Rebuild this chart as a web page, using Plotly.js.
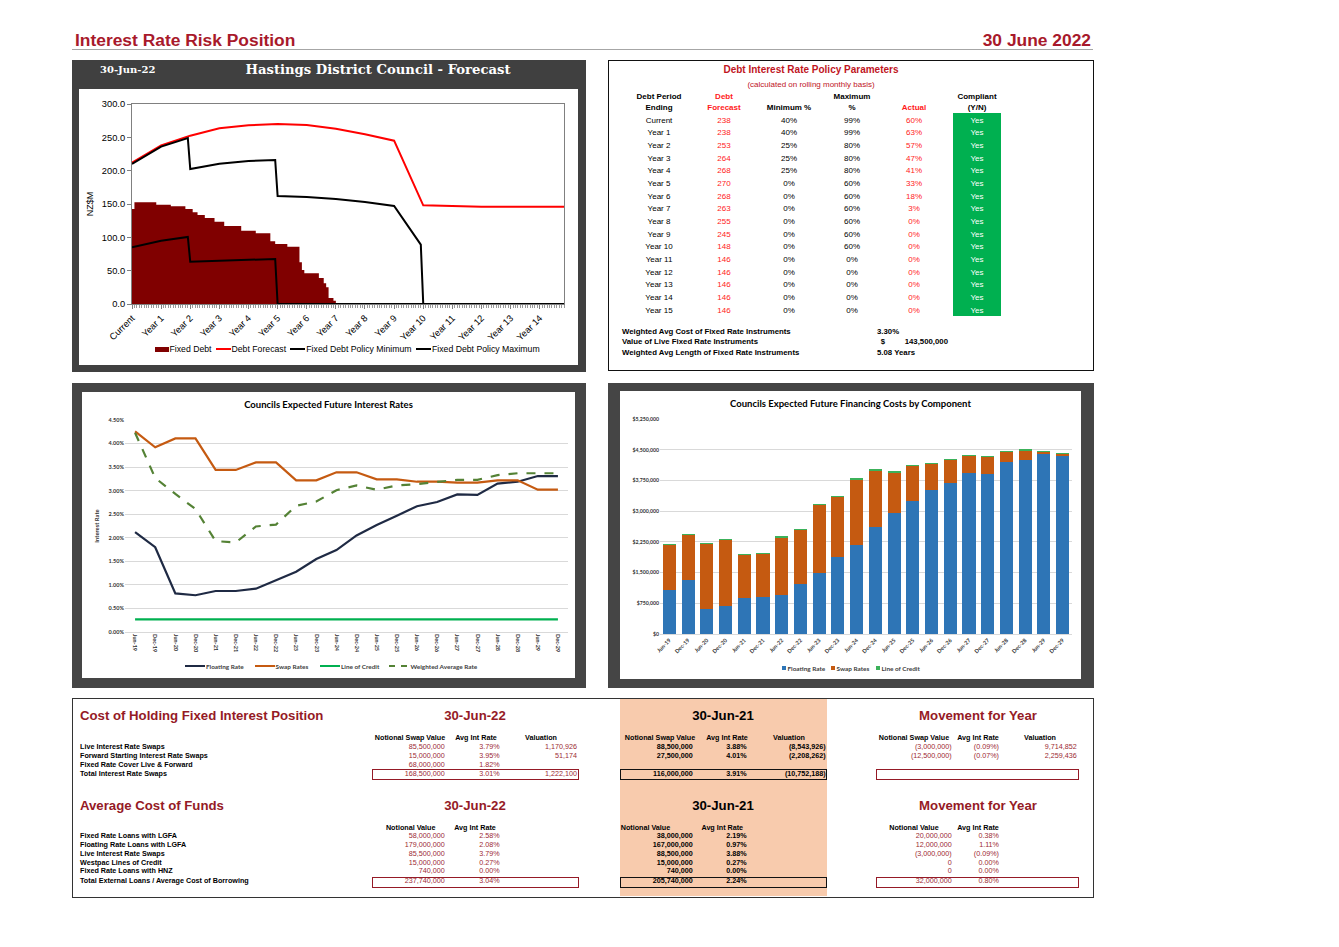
<!DOCTYPE html>
<html>
<head>
<meta charset="utf-8">
<script src="https://cdn.plot.ly/plotly-3.0.1.min.js"></script>
<style>
html,body{margin:0;padding:0;background:#fff;}
body{width:1339px;height:947px;position:relative;overflow:hidden;font-family:"Liberation Sans",Arial,sans-serif;}
.box{position:absolute;box-sizing:border-box;}
.t{position:absolute;white-space:nowrap;}
.plot{position:absolute;}
</style>
</head>
<body>
<script>
// ================= DATA =================
// Top-left: Hastings District Council - Forecast (months from "Current")
const yearTickMonths = [0,12,24,36,48,60,72,84,96,108,120,132,144,156,168];
const yearTickLabels = ['Current','Year 1','Year 2','Year 3','Year 4','Year 5','Year 6','Year 7','Year 8','Year 9','Year 10','Year 11','Year 12','Year 13','Year 14'];
const fixedDebtMonth = [0,1,10,16,22,25,27,30,34,38,45,51,57,59,64,69,70,71,77,79,80,81,83,84,178];
const fixedDebtValue = [142.5,152.5,149,146.5,142.5,137.5,133.5,129,123.5,117,110,106,94,90,86,62.5,51,46,39,31,25,9,5,0,0];
const debtForecastMonth = [0,12,24,36,48,60,72,84,96,108,120,132,144,156,168,178];
const debtForecastValue = [212,238,252.5,263.5,268,270,268.5,263,254.5,245,148,146.5,146,146,146,146];
const policyMinMonth = [0,12,23,24,36,48,59,60,178];
const policyMinValue = [85,95,100.5,63.5,65,66.5,67.5,0,0];
const policyMaxMonth = [0,12,23,24,36,48,59,60,72,84,96,108,119,120,178];
const policyMaxValue = [210,236,249,202.5,210.5,214.5,216,162,160.5,157.5,153,147,89,0,0];
const tlSeriesNames = ['Fixed Debt','Debt Forecast','Fixed Debt Policy Minimum','Fixed Debt Policy Maximum'];

// Top-right: Debt Interest Rate Policy Parameters
const policyPeriods = ['Current','Year 1','Year 2','Year 3','Year 4','Year 5','Year 6','Year 7','Year 8','Year 9','Year 10','Year 11','Year 12','Year 13','Year 14','Year 15'];
const policyDebtForecast = [238,238,253,264,268,270,268,263,255,245,148,146,146,146,146,146];
const policyMinPct = [40,40,25,25,25,0,0,0,0,0,0,0,0,0,0,0];
const policyMaxPct = [99,99,80,80,80,60,60,60,60,60,60,0,0,0,0,0];
const policyActualPct = [60,63,57,47,41,33,18,3,0,0,0,0,0,0,0,0];
const policyCompliant = ['Yes','Yes','Yes','Yes','Yes','Yes','Yes','Yes','Yes','Yes','Yes','Yes','Yes','Yes','Yes','Yes'];
const summaryLabels = ['Weighted Avg Cost of Fixed Rate Instruments','Value of Live Fixed Rate Instruments','Weighted Avg Length of Fixed Rate Instruments'];
const summaryValues = ['3.30%','143,500,000','5.08 Years'];

// Bottom-left / bottom-right: half-year periods
const periodLabels = ['Jun-19','Dec-19','Jun-20','Dec-20','Jun-21','Dec-21','Jun-22','Dec-22','Jun-23','Dec-23','Jun-24','Dec-24','Jun-25','Dec-25','Jun-26','Dec-26','Jun-27','Dec-27','Jun-28','Dec-28','Jun-29','Dec-29'];
const floatingRate = [2.12,1.80,0.82,0.78,0.87,0.87,0.92,1.10,1.28,1.55,1.74,2.05,2.27,2.47,2.67,2.76,2.92,2.91,3.15,3.19,3.31,3.31];
const swapRate = [4.26,3.92,4.11,4.11,3.44,3.44,3.60,3.60,3.22,3.22,3.39,3.39,3.24,3.24,3.19,3.19,3.17,3.17,3.22,3.22,3.02,3.02];
const lineOfCreditRate = [0.27,0.27,0.27,0.27,0.27,0.27,0.27,0.27,0.27,0.27,0.27,0.27,0.27,0.27,0.27,0.27,0.27,0.27,0.27,0.27,0.27,0.27];
const weightedAvgRate = [4.23,3.27,2.93,2.61,1.93,1.90,2.24,2.28,2.68,2.77,3.01,3.11,3.02,3.11,3.14,3.19,3.23,3.23,3.33,3.37,3.37,3.37];
const rateNames = ['Floating Rate','Swap Rates','Line of Credit','Weighted Average Rate'];
const rateColors = ['#1f2a44','#c55a11','#00b050','#548235'];

const floatingCost = [1083000,1327000,602000,684000,871000,895000,960000,1221000,1490000,1880000,2173000,2605000,2955000,3240000,3525000,3687000,3932000,3915000,4208000,4257000,4396000,4355000];
const swapCost = [1085000,1093000,1598000,1606000,1061000,1061000,1395000,1313000,1663000,1468000,1598000,1386000,987000,865000,629000,557000,409000,410000,231000,223000,43000,35000];
const lineOfCreditCost = [30000,30000,30000,30000,30000,30000,30000,30000,30000,30000,30000,30000,30000,30000,30000,30000,30000,30000,30000,30000,30000,30000];
const costNames = ['Floating Rate','Swap Rates','Line of Credit'];
const costColors = ['#2e75b6','#c55a11','#3cb15a'];

// Bottom table: Cost of Holding Fixed Interest Position
const sec1Labels = ['Live Interest Rate Swaps','Forward Starting Interest Rate Swaps','Fixed Rate Cover Live & Forward','Total Interest Rate Swaps'];
const sec1Notional22 = [85500000,15000000,68000000,168500000];
const sec1Rate22 = [3.79,3.95,1.82,3.01];
const sec1Val22 = [1170926,51174,null,1222100];
const sec1Notional21 = [88500000,27500000,null,116000000];
const sec1Rate21 = [3.88,4.01,null,3.91];
const sec1Val21 = [-8543926,-2208262,null,-10752188];
const sec1NotionalMov = [-3000000,-12500000,null,null];
const sec1RateMov = [-0.09,-0.07,null,null];
const sec1ValMov = [9714852,2259436,null,null];

// Bottom table: Average Cost of Funds
const sec2Labels = ['Fixed Rate Loans with LGFA','Floating Rate Loans with LGFA','Live Interest Rate Swaps','Westpac Lines of Credit','Fixed Rate Loans with HNZ','Total External Loans / Average Cost of Borrowing'];
const sec2Notional22 = [58000000,179000000,85500000,15000000,740000,237740000];
const sec2Rate22 = [2.58,2.08,3.79,0.27,0.00,3.04];
const sec2Notional21 = [38000000,167000000,88500000,15000000,740000,205740000];
const sec2Rate21 = [2.19,0.97,3.88,0.27,0.00,2.24];
const sec2NotionalMov = [20000000,12000000,-3000000,0,0,32000000];
const sec2RateMov = [0.38,1.11,-0.09,0.00,0.00,0.80];

// ================= HELPERS =================
const RED = '#a8192b';
const DRED = '#951a26';
const VRED = '#9c2a33';
function addBox(x, y, w, h, css) {
  const d = document.createElement('div');
  d.className = 'box';
  d.style.left = x + 'px'; d.style.top = y + 'px';
  d.style.width = w + 'px'; d.style.height = h + 'px';
  Object.assign(d.style, css || {});
  document.body.appendChild(d);
  return d;
}
function addText(x, y, text, o) {
  o = o || {};
  const size = o.size || 8;
  const h = Math.round(size * 1.4);
  const d = document.createElement('div');
  d.className = 't';
  d.textContent = text;
  d.style.fontSize = size + 'px';
  d.style.lineHeight = h + 'px';
  d.style.height = h + 'px';
  d.style.top = (y - h / 2) + 'px';
  d.style.color = o.color || '#000';
  d.style.fontWeight = o.bold ? 'bold' : 'normal';
  if (o.family) d.style.fontFamily = o.family;
  const align = o.align || 'left';
  if (align === 'left') d.style.left = x + 'px';
  else if (align === 'center') { d.style.left = (x - 200) + 'px'; d.style.width = '400px'; d.style.textAlign = 'center'; }
  else { d.style.left = (x - 400) + 'px'; d.style.width = '400px'; d.style.textAlign = 'right'; }
  document.body.appendChild(d);
  return d;
}
function mkPlot(x, y, w, h) {
  const d = document.createElement('div');
  d.className = 'plot';
  d.style.left = x + 'px'; d.style.top = y + 'px';
  d.style.width = w + 'px'; d.style.height = h + 'px';
  document.body.appendChild(d);
  return d;
}
function fmtNum(v) {
  if (v === null || v === undefined) return '';
  const s = Math.abs(v).toLocaleString('en-US');
  return v < 0 ? '(' + s + ')' : s;
}
function fmtPct(v) {
  if (v === null || v === undefined) return '';
  const s = Math.abs(v).toFixed(2) + '%';
  return v < 0 ? '(' + s + ')' : s;
}

// ================= PAGE HEADER =================
addText(75, 40, 'Interest Rate Risk Position', {size: 17.4, bold: true, color: RED});
addText(1091, 40, '30 June 2022', {size: 17.4, bold: true, color: RED, align: 'right'});
addBox(72, 49, 1021, 1, {background: '#a6a6a6'});

// ================= FRAMES =================
addBox(72, 60, 514, 312, {background: '#404040'});
addBox(79, 89, 499, 276, {background: '#fff'});
addBox(72, 383, 514, 305, {background: '#454545'});
addBox(82, 392, 493, 286, {background: '#fff'});
addBox(608, 383, 486, 305, {background: '#454545'});
addBox(620, 391, 461, 288, {background: '#fff'});
addBox(608, 60, 486, 311, {border: '1px solid #111', background: '#fff'});
addBox(72, 698, 1022, 200, {border: '1.5px solid #333', background: '#fff'});
addBox(620, 699, 207, 197, {background: '#f8cbad'});

// Top-left panel title band
addText(100, 70, '30-Jun-22', {size: 10, bold: true, color: '#fff', family: '"DejaVu Serif", serif'});
addText(378, 69.5, 'Hastings District Council - Forecast', {size: 13.2, bold: true, color: '#fff', family: '"DejaVu Serif", serif', align: 'center'});

// ================= TOP-LEFT CHART =================
const tl = mkPlot(79, 89, 499, 276);
Plotly.newPlot(tl, [
  {x: fixedDebtMonth, y: fixedDebtValue, type: 'scatter', mode: 'lines', name: tlSeriesNames[0],
   line: {shape: 'hv', width: 0, color: '#800000'}, fill: 'tozeroy', fillcolor: '#800000'},
  {x: debtForecastMonth, y: debtForecastValue, type: 'scatter', mode: 'lines', name: tlSeriesNames[1],
   line: {color: '#ff0000', width: 2}},
  {x: policyMinMonth, y: policyMinValue, type: 'scatter', mode: 'lines', name: tlSeriesNames[2],
   line: {color: '#000', width: 2}},
  {x: policyMaxMonth, y: policyMaxValue, type: 'scatter', mode: 'lines', name: tlSeriesNames[3],
   line: {color: '#000', width: 2}}
], {
  width: 499, height: 276,
  margin: {l: 53, r: 14, t: 15, b: 61},
  paper_bgcolor: '#fff', plot_bgcolor: '#fff',
  font: {family: '"Liberation Sans", Arial, sans-serif', size: 9.3, color: '#000'},
  showlegend: false,
  xaxis: {range: [0, 178], tickmode: 'array', tickvals: yearTickMonths, ticktext: yearTickLabels,
          tickangle: -45, ticks: 'outside', ticklen: 4, tickcolor: '#808080',
          showgrid: false, zeroline: false, showline: true, linecolor: '#808080', linewidth: 1, mirror: true,
          minor: {tickmode: 'linear', tick0: 0, dtick: 1, ticks: 'outside', ticklen: 2.5, tickcolor: '#9a9a9a', showgrid: false}},
  yaxis: {range: [0, 300], dtick: 50, tickformat: '.1f', ticks: 'outside', ticklen: 4, tickcolor: '#808080',
          showgrid: false, zeroline: false, showline: true, linecolor: '#808080', linewidth: 1, mirror: true,
          title: {text: 'NZ$M', font: {size: 9}, standoff: 6}}
}, {staticPlot: true});
// Legend for the top-left chart (compact Excel-style keys)
addBox(154.7, 346.5, 14, 5, {background: '#800000'});
addText(169.5, 349, tlSeriesNames[0], {size: 8.7});
addBox(216, 348, 15, 2, {background: '#ff0000'});
addText(231.5, 349, tlSeriesNames[1], {size: 8.7});
addBox(290.3, 348, 15, 2, {background: '#000'});
addText(306.3, 349, tlSeriesNames[2], {size: 8.7});
addBox(416.3, 348, 15, 2, {background: '#000'});
addText(432, 349, tlSeriesNames[3], {size: 8.7});

// ================= TOP-RIGHT POLICY TABLE =================
addText(811, 69.5, 'Debt Interest Rate Policy Parameters', {size: 10, bold: true, color: '#c0141e', align: 'center'});
addText(811, 84.3, '(calculated on rolling monthly basis)', {size: 8, color: '#c0141e', align: 'center'});
const pcols = [659, 724, 789, 852, 914, 977];
const hdr1 = ['Debt Period', 'Debt', '', 'Maximum', '', 'Compliant'];
const hdr2 = ['Ending', 'Forecast', 'Minimum %', '%', 'Actual', '(Y/N)'];
const hdrRed = [false, true, false, false, true, false];
for (let c = 0; c < 6; c++) {
  if (hdr1[c]) addText(pcols[c], 96.7, hdr1[c], {size: 8, bold: true, align: 'center', color: hdrRed[c] ? '#ff1a1a' : '#000'});
  addText(pcols[c], 107, hdr2[c], {size: 8, bold: true, align: 'center', color: hdrRed[c] ? '#ff1a1a' : '#000'});
}
addBox(953, 113, 48, 203, {background: '#00b050'});
for (let i = 0; i < policyPeriods.length; i++) {
  const y = 120 + i * 12.69;
  addText(pcols[0], y, policyPeriods[i], {size: 8, align: 'center'});
  addText(pcols[1], y, String(policyDebtForecast[i]), {size: 8, align: 'center', color: '#ff1a1a'});
  addText(pcols[2], y, policyMinPct[i] + '%', {size: 8, align: 'center'});
  addText(pcols[3], y, policyMaxPct[i] + '%', {size: 8, align: 'center'});
  addText(pcols[4], y, policyActualPct[i] + '%', {size: 8, align: 'center', color: '#ff1a1a'});
  addText(pcols[5], y, policyCompliant[i], {size: 8, align: 'center', color: '#fff'});
}
addText(622, 331, summaryLabels[0], {size: 7.8, bold: true});
addText(877, 331, summaryValues[0], {size: 7.8, bold: true});
addText(622, 341.7, summaryLabels[1], {size: 7.8, bold: true});
addText(880.7, 341.7, '$', {size: 7.8, bold: true});
addText(948, 341.7, summaryValues[1], {size: 7.8, bold: true, align: 'right'});
addText(622, 352.7, summaryLabels[2], {size: 7.8, bold: true});
addText(877, 352.7, summaryValues[2], {size: 7.8, bold: true});

// ================= BOTTOM-LEFT CHART =================
const tickF = {size: 5.5, color: '#333', weight: 'bold'};
const bl = mkPlot(82, 392, 493, 286);
Plotly.newPlot(bl, [
  {x: periodLabels, y: floatingRate, type: 'scatter', mode: 'lines', name: rateNames[0], line: {color: rateColors[0], width: 2.2}},
  {x: periodLabels, y: swapRate, type: 'scatter', mode: 'lines', name: rateNames[1], line: {color: rateColors[1], width: 2.2}},
  {x: periodLabels, y: lineOfCreditRate, type: 'scatter', mode: 'lines', name: rateNames[2], line: {color: rateColors[2], width: 2.2}},
  {x: periodLabels, y: weightedAvgRate, type: 'scatter', mode: 'lines', name: rateNames[3], line: {color: rateColors[3], width: 2.2, dash: 'dash'}}
], {
  width: 493, height: 286,
  margin: {l: 43, r: 7, t: 28, b: 46},
  paper_bgcolor: '#fff', plot_bgcolor: '#fff',
  font: {family: 'Lato, sans-serif', size: 6, color: '#404040'},
  title: {text: '<b>Councils Expected Future Interest Rates</b>', font: {size: 9.5, color: '#000'},
          xref: 'container', x: 0.5, xanchor: 'center', yref: 'container', y: 1 - 13 / 286, yanchor: 'middle'},
  showlegend: false,
  xaxis: {type: 'category', range: [-0.5, 21.5], tickangle: 90, tickfont: tickF,
          showgrid: false, zeroline: false, showline: true, linecolor: '#d9d9d9', ticks: ''},
  yaxis: {range: [0, 4.5], dtick: 0.5, tickformat: '.2f', ticksuffix: '%', tickfont: tickF,
          showgrid: true, gridcolor: '#d9d9d9', zeroline: false, showline: false,
          title: {text: 'Interest Rate', font: {size: 5.8, color: '#333', weight: 'bold'}, standoff: 8}}
}, {staticPlot: true});
// Legend keys
const LF = '"Lato", sans-serif';
addBox(185, 665, 20, 2.2, {background: rateColors[0]});
addText(206, 666, rateNames[0], {size: 6.4, bold: true, color: '#404040', family: LF});
addBox(254.7, 665, 20, 2.2, {background: rateColors[1]});
addText(275.5, 666, rateNames[1], {size: 6.4, bold: true, color: '#404040', family: LF});
addBox(319.7, 665, 20.5, 2.2, {background: rateColors[2]});
addText(341, 666, rateNames[2], {size: 6.4, bold: true, color: '#404040', family: LF});
addBox(388.7, 665, 18, 2.2, {borderTop: '2.2px dashed ' + rateColors[3]});
addText(410.5, 666, rateNames[3], {size: 6.4, bold: true, color: '#404040', family: LF});

// ================= BOTTOM-RIGHT CHART =================
const br = mkPlot(620, 391, 461, 288);
Plotly.newPlot(br, [
  {x: periodLabels, y: floatingCost, type: 'bar', name: costNames[0], marker: {color: costColors[0]}},
  {x: periodLabels, y: swapCost, type: 'bar', name: costNames[1], marker: {color: costColors[1]}},
  {x: periodLabels, y: lineOfCreditCost, type: 'bar', name: costNames[2], marker: {color: costColors[2]}}
], {
  width: 461, height: 288,
  margin: {l: 40, r: 9, t: 28, b: 45},
  barmode: 'stack', bargap: 0.3,
  paper_bgcolor: '#fff', plot_bgcolor: '#fff',
  font: {family: 'Lato, sans-serif', size: 5.5, color: '#404040'},
  title: {text: '<b>Councils Expected Future Financing Costs by Component</b>', font: {size: 9.5, color: '#000'},
          xref: 'container', x: 0.5, xanchor: 'center', yref: 'container', y: 1 - 13 / 288, yanchor: 'middle'},
  showlegend: false,
  xaxis: {type: 'category', range: [-0.5, 21.5], tickangle: -45, tickfont: tickF,
          showgrid: false, zeroline: false, showline: true, linecolor: '#d9d9d9', ticks: ''},
  yaxis: {range: [0, 5250000], dtick: 750000, tickformat: ',.0f', tickprefix: '$', tickfont: {size: 5.2, color: '#333', weight: 'bold'},
          showgrid: true, gridcolor: '#d9d9d9', zeroline: false, showline: false}
}, {staticPlot: true});
addBox(781.5, 666.2, 4, 4, {background: costColors[0]});
addText(787.5, 668, costNames[0], {size: 6.4, bold: true, color: '#404040', family: LF});
addBox(830.5, 666.2, 4, 4, {background: costColors[1]});
addText(836.5, 668, costNames[1], {size: 6.4, bold: true, color: '#404040', family: LF});
addBox(875.5, 666.2, 4, 4, {background: costColors[2]});
addText(881.5, 668, costNames[2], {size: 6.4, bold: true, color: '#404040', family: LF});

// ================= BOTTOM TABLE =================
const TS = 13.2, VS = 7.2;
// Section 1
addText(80, 716, 'Cost of Holding Fixed Interest Position', {size: TS, bold: true, color: DRED});
addText(475, 716, '30-Jun-22', {size: TS, bold: true, color: DRED, align: 'center'});
addText(723, 716, '30-Jun-21', {size: TS, bold: true, color: '#000', align: 'center'});
addText(978, 716, 'Movement for Year', {size: TS, bold: true, color: DRED, align: 'center'});
const s1hdr = ['Notional Swap Value', 'Avg Int Rate', 'Valuation'];
const s1hx = [[410, 476, 541], [660, 727, 789], [914, 978, 1040]];
for (let g = 0; g < 3; g++) for (let c = 0; c < 3; c++) addText(s1hx[g][c], 738, s1hdr[c], {size: VS, bold: true, align: 'center'});
const s1rows = [747, 755.7, 764.7, 774];
const s1right = [[444.7, 499.7, 577], [692.7, 746.7, 825.7], [951.7, 999, 1076.7]];
for (let i = 0; i < sec1Labels.length; i++) {
  const y = s1rows[i];
  addText(80, y, sec1Labels[i], {size: VS, bold: true});
  addText(s1right[0][0], y, fmtNum(sec1Notional22[i]), {size: VS, align: 'right', color: VRED});
  addText(s1right[0][1], y, fmtPct(sec1Rate22[i]), {size: VS, align: 'right', color: VRED});
  addText(s1right[0][2], y, fmtNum(sec1Val22[i]), {size: VS, align: 'right', color: VRED});
  addText(s1right[1][0], y, fmtNum(sec1Notional21[i]), {size: VS, bold: true, align: 'right'});
  addText(s1right[1][1], y, fmtPct(sec1Rate21[i]), {size: VS, bold: true, align: 'right'});
  addText(s1right[1][2], y, fmtNum(sec1Val21[i]), {size: VS, bold: true, align: 'right'});
  addText(s1right[2][0], y, fmtNum(sec1NotionalMov[i]), {size: VS, align: 'right', color: VRED});
  addText(s1right[2][1], y, fmtPct(sec1RateMov[i]), {size: VS, align: 'right', color: VRED});
  addText(s1right[2][2], y, fmtNum(sec1ValMov[i]), {size: VS, align: 'right', color: VRED});
}
addBox(372, 769, 207, 11, {border: '1.5px solid ' + DRED});
addBox(620, 769, 207, 11, {border: '1.5px solid #111'});
addBox(876, 769, 203, 11, {border: '1.5px solid ' + DRED});

// Section 2
addText(80, 806, 'Average Cost of Funds', {size: TS, bold: true, color: DRED});
addText(475, 806, '30-Jun-22', {size: TS, bold: true, color: DRED, align: 'center'});
addText(723, 806, '30-Jun-21', {size: TS, bold: true, color: '#000', align: 'center'});
addText(978, 806, 'Movement for Year', {size: TS, bold: true, color: DRED, align: 'center'});
const s2hdr = ['Notional Value', 'Avg Int Rate'];
const s2hx = [[410.7, 475], [645.5, 722.3], [914, 978]];
for (let g = 0; g < 3; g++) for (let c = 0; c < 2; c++) addText(s2hx[g][c], 828, s2hdr[c], {size: VS, bold: true, align: 'center'});
const s2rows = [836, 845.3, 854, 862.7, 871.3, 880.7];
const s2right = [[444.7, 499.7], [692.7, 746.7], [951.7, 999]];
for (let i = 0; i < sec2Labels.length; i++) {
  const y = s2rows[i];
  addText(80, y, sec2Labels[i], {size: VS, bold: true});
  addText(s2right[0][0], y, fmtNum(sec2Notional22[i]), {size: VS, align: 'right', color: VRED});
  addText(s2right[0][1], y, fmtPct(sec2Rate22[i]), {size: VS, align: 'right', color: VRED});
  addText(s2right[1][0], y, fmtNum(sec2Notional21[i]), {size: VS, bold: true, align: 'right'});
  addText(s2right[1][1], y, fmtPct(sec2Rate21[i]), {size: VS, bold: true, align: 'right'});
  addText(s2right[2][0], y, fmtNum(sec2NotionalMov[i]), {size: VS, align: 'right', color: VRED});
  addText(s2right[2][1], y, fmtPct(sec2RateMov[i]), {size: VS, align: 'right', color: VRED});
}
addBox(372, 877, 207, 10.5, {border: '1.5px solid ' + DRED});
addBox(620, 877, 207, 10.5, {border: '1.5px solid #111'});
addBox(876, 877, 203, 10.5, {border: '1.5px solid ' + DRED});
</script>
</body>
</html>
